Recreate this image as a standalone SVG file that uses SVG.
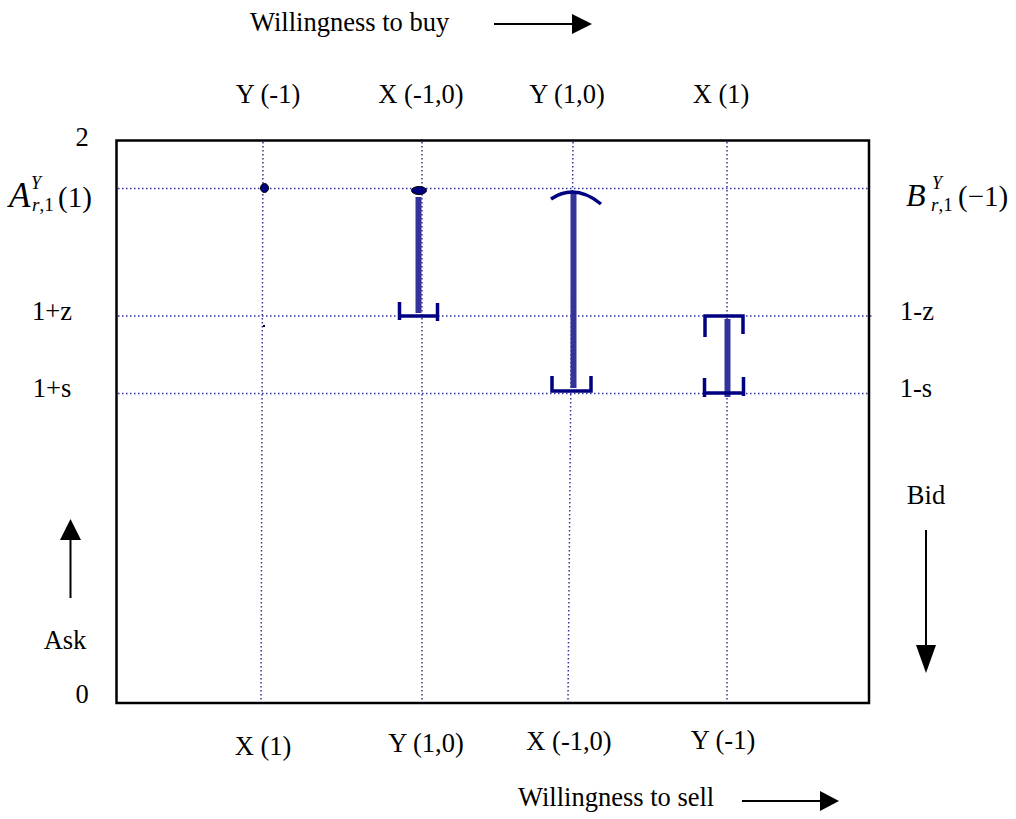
<svg xmlns="http://www.w3.org/2000/svg" width="1016" height="819" viewBox="0 0 1016 819">
<defs>
<style>
text{font-family:"Liberation Serif","Times New Roman",serif;fill:#000;}
.lbl{font-size:26.5px;}
.grid{stroke:#33339a;stroke-width:1.5;stroke-dasharray:1.5 2.5;fill:none;}
.bar{stroke:#333399;stroke-width:6;fill:none;}
.brk{stroke:#000080;stroke-width:3.5;fill:none;}
.arr{stroke:#000;stroke-width:2;fill:none;}
.it{font-style:italic;}
.sup{font-size:18px;font-style:italic;}
.sub{font-size:19px;}
</style>
</defs>
<rect x="0" y="0" width="1016" height="819" fill="#fff"/>
<g id="frame">
<rect x="116.5" y="140.5" width="752.5" height="562.5" fill="none" stroke="#000" stroke-width="2.5"/>
</g>
<g id="grid">
<line class="grid" x1="263" y1="142" x2="261" y2="701"/>
<line class="grid" x1="422" y1="142" x2="422" y2="701"/>
<line class="grid" x1="573" y1="142" x2="568" y2="701"/>
<line class="grid" x1="727" y1="142" x2="727" y2="701"/>
<line class="grid" x1="118" y1="188.5" x2="868" y2="188.5"/>
<line class="grid" x1="118" y1="316" x2="874" y2="316"/>
<line class="grid" x1="118" y1="393.5" x2="868" y2="393.5"/>
</g>
<g id="col1">
<ellipse cx="264.5" cy="188" rx="4" ry="4.5" fill="#000080" stroke="#000" stroke-width="1"/>
<rect x="263" y="325" width="2" height="2" fill="#000"/>
</g>
<g id="col2">
<line class="bar" x1="418.5" y1="197" x2="418.5" y2="313"/>
<ellipse cx="419" cy="190.5" rx="7.5" ry="4" fill="#000080" stroke="#000" stroke-width="1"/>
<path class="brk" d="M399.5 302 V320 M399.5 316 H437.5 M437.5 303 V321"/>
</g>
<g id="col3">
<line class="bar" x1="573.5" y1="192" x2="573.5" y2="388"/>
<path class="brk" d="M551 199 Q575 183 601 204"/>
<path class="brk" d="M552 376 V391 H591 V376"/>
</g>
<g id="col4">
<line class="bar" x1="727.5" y1="319" x2="727.5" y2="397"/>
<path class="brk" d="M705 337 V316 H743 V334"/>
<path class="brk" d="M704.5 378 V397 M704.5 393 H744 M743.5 377 V396"/>
</g>
<g id="connectors">
<line class="arr" x1="494" y1="24" x2="574" y2="24"/>
<polygon points="572,14 592,24 572,34" fill="#000"/>
<line class="arr" x1="742" y1="801" x2="822" y2="801"/>
<polygon points="820,791 839,801 820,811" fill="#000"/>
<line class="arr" x1="70.5" y1="598" x2="70.5" y2="538"/>
<polygon points="60,540 70.5,519 81,540" fill="#000"/>
<line class="arr" x1="926" y1="530" x2="926" y2="647"/>
<polygon points="916,645 926,673 936,645" fill="#000"/>
</g>
<g id="labels">
<text class="lbl" x="250" y="31">Willingness to buy</text>
<text class="lbl" x="268" y="103" text-anchor="middle">Y (-1)</text>
<text class="lbl" x="421" y="103" text-anchor="middle">X (-1,0)</text>
<text class="lbl" x="567" y="103" text-anchor="middle">Y (1,0)</text>
<text class="lbl" x="721" y="103" text-anchor="middle">X (1)</text>
<text class="lbl" x="82" y="146" text-anchor="middle">2</text>
<text class="lbl" x="52" y="320" text-anchor="middle">1+z</text>
<text class="lbl" x="52" y="397" text-anchor="middle">1+s</text>
<text class="lbl" x="65" y="649" text-anchor="middle">Ask</text>
<text class="lbl" x="82" y="703" text-anchor="middle">0</text>
<text class="lbl" x="917" y="320" text-anchor="middle">1-z</text>
<text class="lbl" x="916" y="397" text-anchor="middle">1-s</text>
<text class="lbl" x="926" y="504" text-anchor="middle">Bid</text>
<text class="lbl" x="263" y="755" text-anchor="middle">X (1)</text>
<text class="lbl" x="426" y="752" text-anchor="middle">Y (1,0)</text>
<text class="lbl" x="569" y="750" text-anchor="middle">X (-1,0)</text>
<text class="lbl" x="723" y="749" text-anchor="middle">Y (-1)</text>
<text class="lbl" x="518" y="806">Willingness to sell</text>
</g>
<g id="mathA">
<text x="9" y="207" class="it" font-size="35">A</text>
<text x="31" y="189" class="sup">Y</text>
<text x="32" y="211" class="sub"><tspan class="it">r</tspan>,1</text>
<text x="58" y="207" font-size="29">(1)</text>
</g>
<g id="mathB">
<text x="906" y="206" class="it" font-size="32">B</text>
<text x="932" y="189" class="sup">Y</text>
<text x="931" y="211" class="sub"><tspan class="it">r</tspan>,1</text>
<text x="958" y="206" font-size="29">(−1)</text>
</g>
</svg>
